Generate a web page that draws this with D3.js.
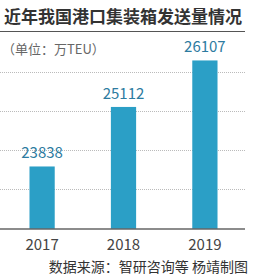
<!DOCTYPE html>
<html>
<head>
<meta charset="utf-8">
<script src="https://cdn.jsdelivr.net/npm/d3@7"></script>
<style>
  body { margin: 0; background: #fff; }
  text { font-family: "Noto Sans CJK SC", "Liberation Sans", sans-serif; }
</style>
</head>
<body>
<div class="chart"></div>
<script>
  // data
  let years = ["2017", "2018", "2019"];
  let volumes = [23838, 25112, 26107];
  let gridValues = [23350, 24190, 25030, 25870];

  let width = 253,
    height = 279,
    baseY = 229,
    left = 0,
    right = 245;

  let svg = d3.select(".chart").append("svg")
    .attr("width", width)
    .attr("height", height);

  // title
  svg.append("text")
    .attr("x", 4)
    .attr("y", 23)
    .attr("fill", "#333")
    .attr("font-size", "17px")
    .attr("font-weight", "bold")
    .text("近年我国港口集装箱发送量情况");

  svg.append("line")
    .attr("x1", 0).attr("x2", right)
    .attr("y1", 31.5).attr("y2", 31.5)
    .attr("stroke", "#555")
    .attr("stroke-width", 1.2);

  svg.append("text")
    .attr("x", 2)
    .attr("y", 54)
    .attr("fill", "#666")
    .attr("font-size", "13px")
    .text("（单位：万TEU）");

  let x = d3.scaleBand()
    .domain(years)
    .range([1, 246])
    .paddingInner(0.69)
    .paddingOuter(0.35);

  let y = d3.scaleLinear()
    .domain([22500, 26500])
    .range([baseY, baseY - 4000 / 21.4]);

  // dotted gridlines
  svg.append("g")
    .selectAll("line")
    .data(gridValues)
    .join("line")
    .attr("x1", left).attr("x2", right)
    .attr("y1", (d) => Math.round(y(d)) + 0.5)
    .attr("y2", (d) => Math.round(y(d)) + 0.5)
    .attr("stroke", "#bbb")
    .attr("stroke-width", 1)
    .attr("stroke-dasharray", "1,1");

  // bars
  svg.append("g")
    .selectAll("rect")
    .data(volumes)
    .join("rect")
    .attr("x", (d, i) => x(years[i]))
    .attr("y", (d) => y(d))
    .attr("width", x.bandwidth())
    .attr("height", (d) => baseY - y(d))
    .attr("fill", "#2b9fc6");

  // value labels
  svg.append("g")
    .selectAll("text")
    .data(volumes)
    .join("text")
    .attr("x", (d, i) => x(years[i]) + x.bandwidth() / 2)
    .attr("y", (d) => y(d) - 8)
    .attr("text-anchor", "middle")
    .attr("fill", "#2d7ba0")
    .attr("font-family", "Liberation Sans, sans-serif")
    .attr("font-size", "15px")
    .text((d) => d);

  // baseline
  svg.append("line")
    .attr("x1", left).attr("x2", right)
    .attr("y1", baseY).attr("y2", baseY)
    .attr("stroke", "#666")
    .attr("stroke-width", 1.5);

  // year labels
  svg.append("g")
    .selectAll("text")
    .data(years)
    .join("text")
    .attr("x", (d) => x(d) + x.bandwidth() / 2)
    .attr("y", 250)
    .attr("text-anchor", "middle")
    .attr("fill", "#444")
    .attr("font-family", "Liberation Sans, sans-serif")
    .attr("font-size", "15px")
    .text((d) => d);

  // source
  svg.append("text")
    .attr("x", 248)
    .attr("y", 272)
    .attr("text-anchor", "end")
    .attr("fill", "#333")
    .attr("font-size", "14px")
    .text("数据来源：智研咨询等  杨靖制图");
</script>
</body>
</html>
